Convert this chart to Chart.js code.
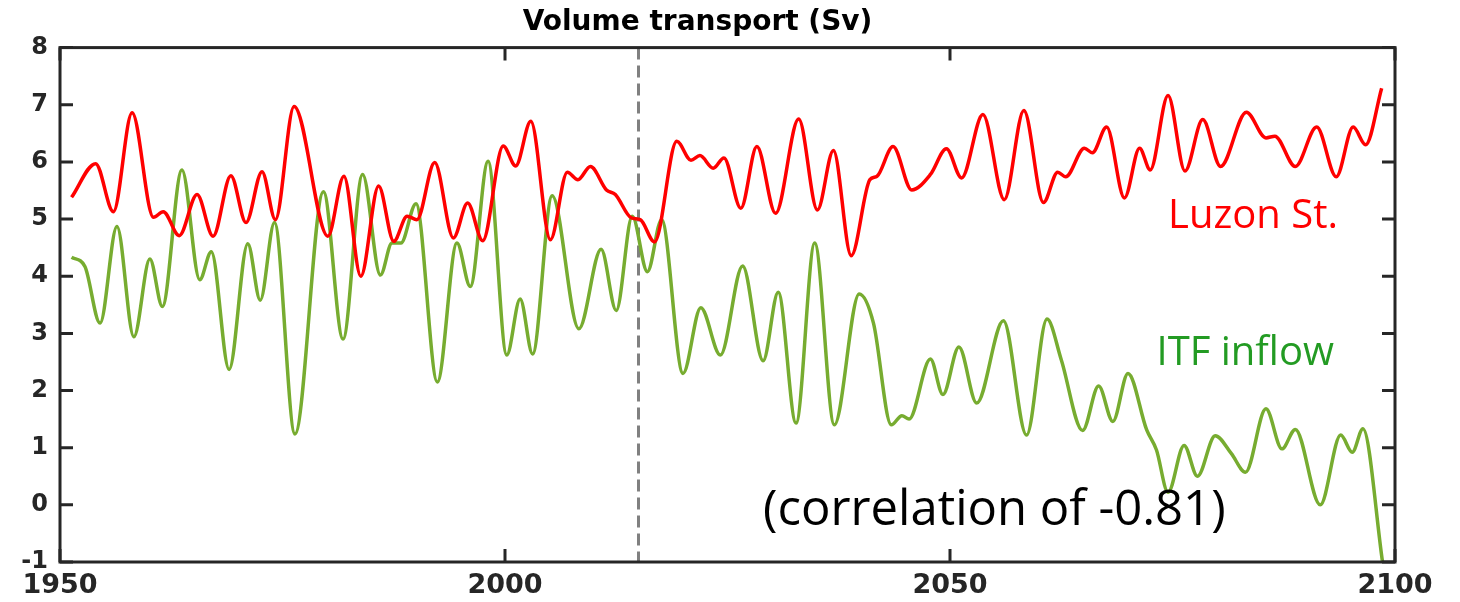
<!DOCTYPE html>
<html>
<head>
<meta charset="utf-8">
<script src="https://cdn.jsdelivr.net/npm/chart.js@4"></script>
<style>
  body { margin: 0; background: #fff; }
</style>
</head>
<body>
<canvas id="canvas" width="1460" height="602"></canvas>
<script>

// Luzon Strait transport (year, Sv)
var luzonYears = [1951.3, 1954.0, 1956.0, 1958.1, 1960.5, 1961.6, 1963.4, 1965.4, 1967.2, 1969.2,
  1970.9, 1972.7, 1974.2, 1976.3, 1980.1, 1981.9, 1983.8, 1985.8, 1987.5, 1989.0,
  1990.1, 1992.1, 1994.2, 1995.8, 1997.5, 1999.8, 2001.2, 2002.9, 2005.1, 2007.0,
  2008.2, 2009.6, 2011.4, 2012.4, 2014.2, 2015.2, 2016.8, 2019.3, 2020.9, 2021.9,
  2023.4, 2024.6, 2026.5, 2028.3, 2030.4, 2033.0, 2035.1, 2036.9, 2038.9, 2041.0,
  2041.8, 2043.6, 2045.7, 2047.8, 2049.6, 2051.3, 2053.7, 2056.1, 2058.3, 2060.5,
  2062.1, 2063.0, 2065.1, 2066.0, 2067.6, 2069.6, 2071.3, 2072.5, 2074.5, 2076.4,
  2078.4, 2080.4, 2083.3, 2085.5, 2086.5, 2088.8, 2091.2, 2093.4, 2095.3, 2096.7,
  2098.5];
var luzonValues = [5.38, 5.97, 5.13, 6.86, 5.03, 5.13, 4.71, 5.43, 4.70, 5.76,
  4.94, 5.83, 4.99, 6.97, 4.70, 5.75, 4.00, 5.58, 4.61, 5.05,
  4.99, 5.99, 4.67, 5.28, 4.62, 6.28, 5.93, 6.71, 4.64, 5.82,
  5.69, 5.92, 5.51, 5.43, 5.02, 4.99, 4.60, 6.36, 6.03, 6.11,
  5.89, 6.07, 5.19, 6.27, 5.10, 6.75, 5.16, 6.20, 4.36, 5.69,
  5.75, 6.27, 5.51, 5.78, 6.23, 5.72, 6.83, 5.34, 6.90, 5.29,
  5.82, 5.74, 6.24, 6.16, 6.61, 5.37, 6.24, 5.86, 7.16, 5.84,
  6.74, 5.92, 6.87, 6.42, 6.45, 5.92, 6.61, 5.74, 6.61, 6.30,
  7.29];

// ITF inflow
var itfYears = [1951.3, 1952.8, 1954.5, 1956.4, 1958.3, 1960.1, 1961.5, 1963.7, 1965.7, 1967.0,
  1969.0, 1971.1, 1972.5, 1974.1, 1976.4, 1979.6, 1981.8, 1984.0, 1986.0, 1987.3,
  1988.3, 1990.0, 1992.4, 1994.6, 1996.1, 1998.1, 2000.2, 2001.7, 2003.1, 2005.3,
  2008.3, 2010.8, 2012.5, 2014.3, 2016.0, 2017.6, 2020.0, 2022.0, 2024.2, 2026.7,
  2029.0, 2030.7, 2032.7, 2034.8, 2037.0, 2039.8, 2041.4, 2043.4, 2044.6, 2045.4,
  2047.8, 2049.2, 2051.0, 2053.0, 2056.0, 2058.6, 2060.9, 2062.5, 2064.9, 2066.7,
  2068.3, 2070.0, 2072.1, 2073.2, 2074.5, 2076.3, 2077.8, 2079.8, 2081.6, 2083.2,
  2085.5, 2087.3, 2088.8, 2091.6, 2093.9, 2095.2, 2096.4, 2098.6];
var itfValues = [4.33, 4.17, 3.18, 4.87, 2.94, 4.30, 3.47, 5.86, 3.94, 4.43,
  2.37, 4.57, 3.58, 4.94, 1.24, 5.48, 2.90, 5.78, 4.02, 4.58,
  4.58, 5.27, 2.15, 4.58, 3.82, 6.01, 2.62, 3.60, 2.64, 5.41,
  3.08, 4.47, 3.40, 5.05, 4.08, 4.99, 2.30, 3.45, 2.62, 4.18,
  2.52, 3.72, 1.43, 4.58, 1.40, 3.69, 3.18, 1.40, 1.56, 1.50,
  2.55, 1.93, 2.76, 1.78, 3.22, 1.22, 3.25, 2.54, 1.30, 2.08,
  1.46, 2.30, 1.31, 0.96, 0.22, 1.04, 0.50, 1.21, 0.90, 0.57,
  1.68, 0.98, 1.32, 0.00, 1.22, 0.92, 1.33, -1.0];

var yTickValues = [-1, 0, 1, 2, 3, 4, 5, 6, 7, 8];
var xTickValues = [1950, 2000, 2050, 2100];
var splitYear = 2015;

function to_points(xs, ys){
    var pts = [];
    for (var i = 0; i < xs.length; i++){
        pts.push({x: xs[i], y: ys[i]});
    }
    return pts;
}

// frame, inward ticks, dashed 2015 line and the labels
var framePlugin = {
    id: 'frame',
    beforeDatasetsDraw: function(chart){
        var ctx = chart.ctx, a = chart.chartArea;
        var px = chart.scales.x.getPixelForValue(splitYear);
        ctx.save();
        ctx.strokeStyle = '#808080';
        ctx.lineWidth = 3;
        ctx.setLineDash([12, 6]);
        ctx.beginPath();
        ctx.moveTo(px, a.top);
        ctx.lineTo(px, a.bottom);
        ctx.stroke();
        ctx.restore();
    },
    afterDraw: function(chart){
        var ctx = chart.ctx, a = chart.chartArea;
        var xs = chart.scales.x, ys = chart.scales.y;
        ctx.save();
        ctx.strokeStyle = '#262626';
        ctx.lineWidth = 3;
        ctx.strokeRect(a.left, a.top, a.right - a.left, a.bottom - a.top);
        ctx.beginPath();
        yTickValues.forEach(function(v){
            var py = ys.getPixelForValue(v);
            ctx.moveTo(a.left, py); ctx.lineTo(a.left + 13, py);
            ctx.moveTo(a.right, py); ctx.lineTo(a.right - 13, py);
        });
        xTickValues.forEach(function(v){
            var px = xs.getPixelForValue(v);
            ctx.moveTo(px, a.top); ctx.lineTo(px, a.top + 13);
            ctx.moveTo(px, a.bottom); ctx.lineTo(px, a.bottom - 13);
        });
        ctx.stroke();

        ctx.textAlign = 'left';
        ctx.textBaseline = 'alphabetic';
        ctx.font = '40px "Open Sans"';
        ctx.fillStyle = '#ff0000';
        ctx.fillText('Luzon St.', xs.getPixelForValue(2074.5), ys.getPixelForValue(4.84));
        ctx.fillStyle = '#239b23';
        ctx.fillText('ITF inflow', xs.getPixelForValue(2073.2), ys.getPixelForValue(2.45));
        ctx.font = '49px "Open Sans"';
        ctx.fillStyle = '#000000';
        ctx.fillText('(correlation of -0.81)', xs.getPixelForValue(2029.0), ys.getPixelForValue(-0.35));
        ctx.restore();
    }
};

function create_graph(){
    new Chart(document.getElementById("canvas"), {
        type: 'line',
        data: {
            datasets: [{
                label: 'Luzon St.',
                data: to_points(luzonYears, luzonValues),
                borderColor: '#ff0000',
                borderWidth: 3.5,
                pointRadius: 0,
                cubicInterpolationMode: 'monotone',
                fill: false
            }, {
                label: 'ITF inflow',
                data: to_points(itfYears, itfValues),
                borderColor: '#77ac30',
                borderWidth: 3.5,
                pointRadius: 0,
                cubicInterpolationMode: 'monotone',
                fill: false
            }]
        },
        options: {
            responsive: false,
            animation: false,
            layout: { padding: { left: 0, right: 65, top: 0, bottom: 0 } },
            plugins: {
                legend: { display: false },
                tooltip: { enabled: false },
                title: {
                    display: true,
                    text: 'Volume transport (Sv)',
                    color: '#000',
                    font: { family: 'DejaVu Sans', weight: 'bold', size: 28 },
                    padding: { top: 6, bottom: 8 }
                }
            },
            scales: {
                x: {
                    type: 'linear',
                    min: 1950,
                    max: 2100,
                    afterFit: function(s){ s.height = 40; },
                    grid: { display: false, drawTicks: false },
                    border: { display: false },
                    ticks: {
                        stepSize: 50,
                        maxRotation: 0,
                        padding: 8,
                        color: '#262626',
                        font: { family: 'DejaVu Sans', weight: 'bold', size: 27 },
                        callback: function(v){ return String(v); }
                    }
                },
                y: {
                    min: -1,
                    max: 8,
                    afterFit: function(s){ s.width = 60; },
                    grid: { display: false, drawTicks: false },
                    border: { display: false },
                    ticks: {
                        stepSize: 1,
                        padding: 12,
                        color: '#262626',
                        font: { family: 'DejaVu Sans', weight: 'bold', size: 24 }
                    }
                }
            }
        },
        plugins: [framePlugin]
    });
}

create_graph();
</script>
</body>
</html>
